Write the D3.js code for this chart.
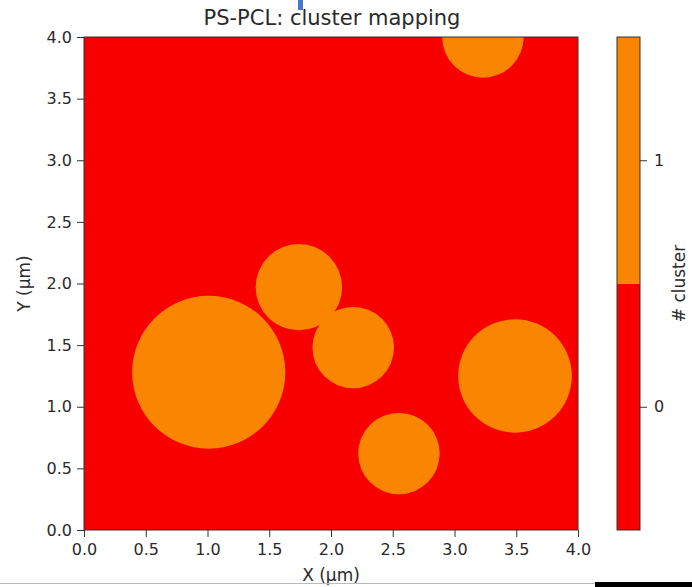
<!DOCTYPE html>
<html>
<head>
<meta charset="utf-8">
<script src="https://cdn.jsdelivr.net/npm/d3@7"></script>
<style>
  body { margin: 0; background: #fff; }
  svg { font-family: "DejaVu Sans", sans-serif; }
</style>
</head>
<body>
<svg id="chart" width="692" height="587"></svg>
<script>
// cluster blobs (um)
const blobX = [1.01, 1.74, 2.18, 2.55, 3.49, 3.23];
const blobY = [1.28, 1.97, 1.48, 0.62, 1.25, 4.00];
const blobR = [0.62, 0.35, 0.33, 0.33, 0.46, 0.33];

const xTicks = [0.0, 0.5, 1.0, 1.5, 2.0, 2.5, 3.0, 3.5, 4.0];
const yTicks = [0.0, 0.5, 1.0, 1.5, 2.0, 2.5, 3.0, 3.5, 4.0];
const clusterIds = [0, 1];
const clusterColors = ['#f80000', '#fa8500'];

const PLOT = { left: 84, right: 578, top: 37, bottom: 530 };
const CBAR = { left: 617, right: 640 };
const TICK = 7;
const FONT = '"DejaVu Sans", sans-serif';

const svg = d3.select('#chart');

const x = d3.scaleLinear().domain([0, 4]).range([PLOT.left, PLOT.right]);
const y = d3.scaleLinear().domain([0, 4]).range([PLOT.bottom, PLOT.top]);
const color = d3.scaleOrdinal().domain(clusterIds).range(clusterColors);

svg.append('defs').append('clipPath').attr('id', 'plotclip')
  .append('rect')
  .attr('x', PLOT.left).attr('y', PLOT.top)
  .attr('width', PLOT.right - PLOT.left).attr('height', PLOT.bottom - PLOT.top);

const plot = svg.append('g').attr('clip-path', 'url(#plotclip)');

// background = cluster 0
plot.append('rect')
  .attr('x', x(0)).attr('y', y(4))
  .attr('width', x(4) - x(0)).attr('height', y(0) - y(4))
  .attr('fill', color(0));

const blobs = blobX.map((d, i) => ({ cx: d, cy: blobY[i], r: blobR[i] }));

plot.selectAll('.blob')
  .data(blobs)
  .enter()
  .append('ellipse')
  .classed('blob', true)
  .attr('cx', d => x(d.cx))
  .attr('cy', d => y(d.cy))
  .attr('rx', d => x(d.r) - x(0))
  .attr('ry', d => y(0) - y(d.r))
  .attr('fill', color(1));

// axes
const xAxis = svg.append('g')
  .attr('transform', `translate(0, ${PLOT.bottom})`)
  .call(d3.axisBottom(x).tickValues(xTicks).tickFormat(d3.format('.1f')).tickSizeOuter(0).tickSize(TICK));
const yAxis = svg.append('g')
  .attr('transform', `translate(${PLOT.left}, 0)`)
  .call(d3.axisLeft(y).tickValues(yTicks).tickFormat(d3.format('.1f')).tickSizeOuter(0).tickSize(TICK));

[xAxis, yAxis].forEach(a => {
  a.select('.domain').remove();
  a.selectAll('text').attr('font-size', 16).attr('font-family', FONT).attr('fill', '#2a2a2a');
  a.selectAll('line').attr('stroke', '#333');
});
xAxis.selectAll('text').attr('dy', '0.71em').attr('y', 14);
yAxis.selectAll('text').attr('x', -12);

// frame
svg.append('rect')
  .attr('x', PLOT.left).attr('y', PLOT.top)
  .attr('width', PLOT.right - PLOT.left).attr('height', PLOT.bottom - PLOT.top)
  .attr('fill', 'none').attr('stroke', '#333').attr('stroke-width', 1);

// colorbar
const cb = d3.scaleLinear().domain([-0.5, 1.5]).range([PLOT.bottom, PLOT.top]);
svg.selectAll('.cbseg')
  .data(clusterIds)
  .enter()
  .append('rect')
  .classed('cbseg', true)
  .attr('x', CBAR.left)
  .attr('y', d => cb(d + 0.5))
  .attr('width', CBAR.right - CBAR.left)
  .attr('height', d => cb(d - 0.5) - cb(d + 0.5))
  .attr('fill', d => color(d));

svg.append('rect')
  .attr('x', CBAR.left).attr('y', PLOT.top)
  .attr('width', CBAR.right - CBAR.left).attr('height', PLOT.bottom - PLOT.top)
  .attr('fill', 'none').attr('stroke', '#333').attr('stroke-width', 1);

const cbAxis = svg.append('g')
  .attr('transform', `translate(${CBAR.right}, 0)`)
  .call(d3.axisRight(cb).tickValues(clusterIds).tickFormat(d3.format('d')).tickSizeOuter(0).tickSize(TICK));
cbAxis.select('.domain').remove();
cbAxis.selectAll('text').attr('font-size', 16).attr('font-family', FONT).attr('fill', '#2a2a2a').attr('x', 14);
cbAxis.selectAll('line').attr('stroke', '#333');

// labels
svg.append('text')
  .attr('x', 332).attr('y', 25)
  .attr('text-anchor', 'middle').attr('font-size', 21).attr('fill', '#2a2a2a')
  .text('PS-PCL: cluster mapping');

svg.append('text')
  .attr('x', (PLOT.left + PLOT.right) / 2).attr('y', 581)
  .attr('text-anchor', 'middle').attr('font-size', 17).attr('fill', '#2a2a2a')
  .text('X (µm)');

svg.append('text')
  .attr('transform', `translate(30, ${(PLOT.top + PLOT.bottom) / 2}) rotate(-90)`)
  .attr('text-anchor', 'middle').attr('font-size', 17).attr('fill', '#2a2a2a')
  .text('Y (µm)');

svg.append('text')
  .attr('transform', `translate(685, ${(PLOT.top + PLOT.bottom) / 2}) rotate(-90)`)
  .attr('text-anchor', 'middle').attr('font-size', 17).attr('fill', '#2a2a2a')
  .text('# cluster');

// screenshot leftovers
svg.append('rect').attr('x', 298).attr('y', 0).attr('width', 5).attr('height', 10).attr('fill', '#4a78c8');
svg.append('line').attr('x1', 0).attr('x2', 595).attr('y1', 583.5).attr('y2', 583.5).attr('stroke', '#bbb');
svg.append('rect').attr('x', 595).attr('y', 582).attr('width', 97).attr('height', 5).attr('fill', '#000');
</script>
</body>
</html>
